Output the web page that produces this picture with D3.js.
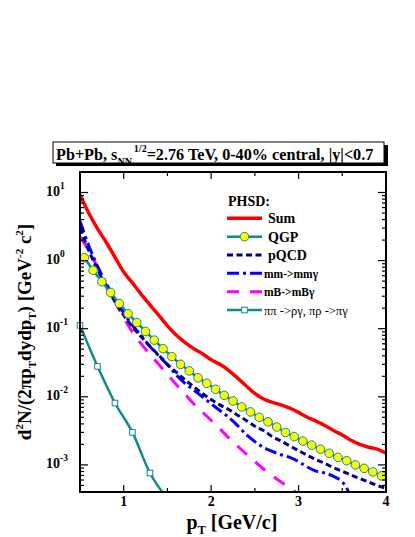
<!DOCTYPE html>
<html><head><meta charset="utf-8">
<script src="https://cdn.jsdelivr.net/npm/d3@7"></script>
<style>html,body{margin:0;padding:0;background:#fff;}svg{display:block;}</style>
</head><body>
<svg id="c" width="415" height="537"></svg>
<script>
// ---- data ----
const ptGrid = [0.5,0.6,0.7,0.8,0.9,1.0,1.1,1.2,1.3,1.4,1.5,1.6,1.7,1.8,1.9,2.0,2.1,2.2,2.3,2.4,2.5,2.6,2.7,2.8,2.9,3.0,3.1,3.2,3.3,3.4,3.5,3.6,3.7,3.8,3.9,4.0];
const sumVals = [9.3,5.0,2.95,1.86,1.12,0.68,0.47,0.32,0.224,0.158,0.11,0.081,0.063,0.051,0.043,0.035,0.030,0.0245,0.019,0.0145,0.0112,0.0093,0.0083,0.0076,0.0068,0.0059,0.0050,0.0044,0.0038,0.0032,0.00275,0.0023,0.0020,0.00182,0.0017,0.00148];
const pqcdVals = [3.0,1.41,0.74,0.42,0.25,0.158,0.107,0.076,0.055,0.041,0.030,0.023,0.0178,0.0141,0.0112,0.0091,0.0076,0.0065,0.0054,0.0045,0.0037,0.0032,0.0026,0.00224,0.0019,0.00162,0.00138,0.0012,0.00105,0.00091,0.00081,0.00071,0.00063,0.00056,0.0005,0.00045];
const qgpPt = [0.55,0.65,0.75,0.85,0.95,1.05,1.15,1.25,1.35,1.45,1.55,1.65,1.75,1.85,1.95,2.05,2.15,2.25,2.35,2.45,2.55,2.65,2.75,2.85,2.95,3.05,3.15,3.25,3.35,3.45,3.55,3.65,3.75,3.85,3.95];
const qgpVals = [1.10,0.72,0.49,0.34,0.234,0.166,0.123,0.091,0.068,0.051,0.039,0.030,0.024,0.019,0.0158,0.0129,0.0105,0.0087,0.0071,0.0060,0.0050,0.0043,0.0036,0.0030,0.0026,0.00224,0.00195,0.0017,0.00148,0.00129,0.00115,0.00100,0.00089,0.00079,0.00069];
const mmPt = [0.5,0.6,0.7,0.8,0.9,1.0,1.1,1.2,1.3,1.4,1.5,1.6,1.7,1.8,1.9,2.0,2.1,2.2,2.3,2.4,2.5,2.6,2.7,2.8,2.9,3.0,3.1,3.2,3.3,3.4,3.5,3.55,3.6];
const mmVals = [3.8,1.66,0.83,0.46,0.275,0.17,0.112,0.079,0.055,0.040,0.0295,0.021,0.0158,0.0126,0.010,0.0079,0.0063,0.0050,0.0038,0.0028,0.0022,0.0018,0.00158,0.00141,0.00129,0.00112,0.00093,0.00081,0.00076,0.00068,0.00056,0.00046,0.00032];
const mbPt = [0.5,0.6,0.7,0.8,0.9,1.0,1.1,1.2,1.3,1.4,1.5,1.6,1.7,1.8,1.9,2.0,2.1,2.2,2.3,2.4,2.5,2.6,2.7,2.8,2.9,3.0];
const mbVals = [2.24,1.41,0.79,0.42,0.25,0.145,0.089,0.060,0.042,0.030,0.0214,0.0151,0.011,0.0079,0.006,0.0045,0.0034,0.0025,0.0019,0.00145,0.00112,0.00087,0.00069,0.00056,0.00046,0.00037];
const pipiPt = [0.5,0.7,0.9,1.1,1.3,1.5];
const pipiVals = [0.112,0.028,0.0081,0.003,0.00076,0.00032];
const xTickLabels = ["1","2","3","4"];
const yDecades = [-3,-2,-1,0,1];
const legendLabels = ["Sum","QGP","pQCD","mm->mm\u03b3","mB->mB\u03b3","\u03c0\u03c0 ->\u03c1\u03b3, \u03c0\u03c1 ->\u03c0\u03b3"];

// ---- layout ----
const svg = d3.select("#c");
const L = 80, R = 386, T = 172, B = 492;
const x = d3.scaleLinear().domain([0.5, 4]).range([L, R]);
const y = d3.scaleLog().domain([4e-4, 20]).range([B, T]);
const serif = "'Liberation Serif','Times New Roman',serif";

const teal = "#128a8a", red = "#ff0000", navy = "#000080", blue = "#0000ff", magenta = "#ff00ff";

svg.append("defs").append("clipPath").attr("id","clip")
  .append("rect").attr("x",L).attr("y",T).attr("width",R-L).attr("height",B-T);

const gPlot = svg.append("g").attr("clip-path","url(#clip)");
const line = d3.line().x(d=>x(d[0])).y(d=>y(d[1])).curve(d3.curveMonotoneX);
const zip = (a,b)=>a.map((v,i)=>[v,b[i]]);

// curves
gPlot.append("path").datum(zip(mbPt,mbVals)).attr("d",line).attr("fill","none")
  .attr("stroke",magenta).attr("stroke-width",3).attr("stroke-dasharray","13,11");
gPlot.append("path").datum(zip(mmPt,mmVals)).attr("d",line).attr("fill","none")
  .attr("stroke",blue).attr("stroke-width",3).attr("stroke-dasharray","12,4,3,4");
gPlot.append("path").datum(zip(ptGrid,pqcdVals)).attr("d",line).attr("fill","none")
  .attr("stroke",navy).attr("stroke-width",3).attr("stroke-dasharray","6,3.5");
gPlot.append("path").datum(zip(pipiPt,pipiVals)).attr("d",line).attr("fill","none")
  .attr("stroke",teal).attr("stroke-width",2.5);
gPlot.append("path").datum(zip(qgpPt,qgpVals)).attr("d",line).attr("fill","none")
  .attr("stroke",teal).attr("stroke-width",2.5);
gPlot.append("path").datum(zip(ptGrid,sumVals)).attr("d",line).attr("fill","none")
  .attr("stroke",red).attr("stroke-width",3.5);

// markers
const gMk = svg.append("g");
gMk.selectAll("circle.q").data(zip(qgpPt,qgpVals)).enter().append("circle")
  .attr("cx",d=>x(d[0])).attr("cy",d=>y(d[1])).attr("r",4.3)
  .attr("fill","#ffff00").attr("stroke",teal).attr("stroke-width",1);
gMk.selectAll("rect.p").data(zip(pipiPt,pipiVals).filter(d=>y(d[1])<B)).enter().append("rect")
  .attr("x",d=>x(d[0])-2.8).attr("y",d=>y(d[1])-2.8).attr("width",5.6).attr("height",5.6)
  .attr("fill","#fff").attr("stroke",teal).attr("stroke-width",1);

// frame
svg.append("rect").attr("x",L).attr("y",T).attr("width",R-L).attr("height",B-T)
  .attr("fill","none").attr("stroke","#000").attr("stroke-width",2);

// x ticks
const xt = d3.range(1, 8).map(i=>0.5*i+0.5).filter(v=>v>0.5 && v<4);
xt.forEach(v=>{
  const len = Number.isInteger(v) ? 7 : 4;
  svg.append("line").attr("x1",x(v)).attr("x2",x(v)).attr("y1",B).attr("y2",B-len).attr("stroke","#000").attr("stroke-width",1.2);
  svg.append("line").attr("x1",x(v)).attr("x2",x(v)).attr("y1",T).attr("y2",T+len).attr("stroke","#000").attr("stroke-width",1.2);
});
const xAxisLabels = svg.append("g");
xTickLabels.forEach(t=>{
  xAxisLabels.append("text").attr("x",x(+t)).attr("y",506).attr("text-anchor","middle")
    .attr("font-family",serif).attr("font-weight","bold").attr("font-size",14).text(t);
});

// y ticks
const yt = [];
for (let e=-4; e<=1; e++) for (let m=1; m<=9; m++) { const v = m*Math.pow(10,e); if (v>=4e-4 && v<=20) yt.push([v,m===1]); }
yt.forEach(([v,maj])=>{
  const len = maj ? 8 : 4;
  svg.append("line").attr("x1",L).attr("x2",L+len).attr("y1",y(v)).attr("y2",y(v)).attr("stroke","#000").attr("stroke-width",1.2);
  svg.append("line").attr("x1",R).attr("x2",R-len).attr("y1",y(v)).attr("y2",y(v)).attr("stroke","#000").attr("stroke-width",1.2);
});
yDecades.forEach(e=>{
  const t = svg.append("text").attr("x",46).attr("y",y(Math.pow(10,e))+3)
    .attr("font-family",serif).attr("font-weight","bold").attr("font-size",14);
  t.append("tspan").text("10");
  t.append("tspan").attr("dy",-7).attr("font-size",9.5).text(e);
});

// axis titles
const xl = svg.append("text").attr("x",232).attr("y",529).attr("text-anchor","middle")
  .attr("font-family",serif).attr("font-weight","bold").attr("font-size",20);
xl.append("tspan").text("p");
xl.append("tspan").attr("dy",5).attr("font-size",12).text("T");
xl.append("tspan").attr("dy",-5).text(" [GeV/c]");

const yl = svg.append("text").attr("transform","translate(31,332) rotate(-90)").attr("text-anchor","middle")
  .attr("font-family",serif).attr("font-weight","bold").attr("font-size",19);
yl.append("tspan").text("d");
yl.append("tspan").attr("dy",-8).attr("font-size",11).text("2");
yl.append("tspan").attr("dy",8).text("N/(2\u03c0p");
yl.append("tspan").attr("dy",5).attr("font-size",11).text("T");
yl.append("tspan").attr("dy",-5).text("dydp");
yl.append("tspan").attr("dy",5).attr("font-size",11).text("T");
yl.append("tspan").attr("dy",-5).text(")  [GeV");
yl.append("tspan").attr("dy",-8).attr("font-size",11).text("-2");
yl.append("tspan").attr("dy",8).text(" c");
yl.append("tspan").attr("dy",-8).attr("font-size",11).text("2");
yl.append("tspan").attr("dy",8).text("]");

// title box with shadow
svg.append("rect").attr("x",56).attr("y",145).attr("width",332).attr("height",21).attr("fill","#000");
svg.append("rect").attr("x",53).attr("y",142).attr("width",331).attr("height",21).attr("fill","#fff").attr("stroke","#000").attr("stroke-width",1);
const tt = svg.append("text").attr("x",56).attr("y",159.5)
  .attr("font-family",serif).attr("font-weight","bold").attr("font-size",16.2);
tt.append("tspan").text("Pb+Pb, s");
tt.append("tspan").attr("dy",5).attr("font-size",10).text("NN");
tt.append("tspan").attr("dy",-13).attr("font-size",10).attr("dx",2).text("1/2");
tt.append("tspan").attr("dy",8).text("=2.76 TeV, 0-40% central, |y|<0.7");

// legend
const lg = svg.append("g");
lg.append("text").attr("x",228).attr("y",206).attr("font-family",serif).attr("font-weight","bold").attr("font-size",14).text("PHSD:");
const rowY = i => 218.3 + i*18.35;
const styles = [
  {c:red,w:3.5,d:null},
  {c:teal,w:2.5,d:null},
  {c:navy,w:3,d:"6,3.5"},
  {c:blue,w:3,d:"12,4,3,4"},
  {c:magenta,w:3,d:"12,11"},
  {c:teal,w:2.5,d:null}
];
legendLabels.forEach((lab,i)=>{
  const s = styles[i];
  const ln = lg.append("line").attr("x1",227).attr("x2",262).attr("y1",rowY(i)).attr("y2",rowY(i))
    .attr("stroke",s.c).attr("stroke-width",s.w);
  if (s.d) ln.attr("stroke-dasharray",s.d);
  if (i===1) lg.append("circle").attr("cx",244.5).attr("cy",rowY(i)).attr("r",4.3).attr("fill","#ffff00").attr("stroke",teal);
  if (i===5) lg.append("rect").attr("x",241.7).attr("y",rowY(i)-2.8).attr("width",5.6).attr("height",5.6).attr("fill","#fff").attr("stroke",teal);
  const big = i<3;
  lg.append("text").attr("x", big?268:264).attr("y",rowY(i)+(big?5:4.5))
    .attr("font-family",serif).attr("font-weight", i===5?"normal":"bold")
    .attr("font-size", big?14:(i===5?12.5:11.5)).text(lab);
});
</script>
</body></html>
